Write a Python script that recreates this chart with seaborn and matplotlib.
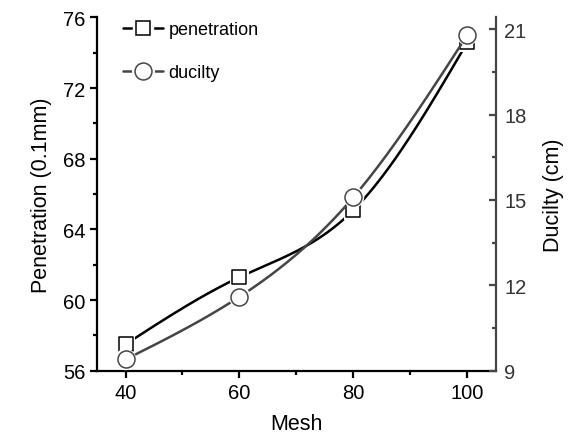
import numpy as np
import pandas as pd
import seaborn as sns
import matplotlib.pyplot as plt
from matplotlib.lines import Line2D
from matplotlib.legend_handler import HandlerTuple
from matplotlib.ticker import MultipleLocator

mesh = [40, 60, 80, 100]
penetration = [57.5, 61.3, 65.1, 74.6]
ducility = [9.4, 11.6, 15.1, 20.8]

pen_color = "#000000"
duc_color = "#454545"


def natural_spline(x, y, n=200):
    # natural cubic spline, only used to draw the smooth connecting line
    x = np.asarray(x, float)
    y = np.asarray(y, float)
    k = len(x)
    h = np.diff(x)
    A = np.zeros((k, k))
    b = np.zeros(k)
    A[0, 0] = A[-1, -1] = 1
    for i in range(1, k - 1):
        A[i, i - 1] = h[i - 1]
        A[i, i] = 2 * (h[i - 1] + h[i])
        A[i, i + 1] = h[i]
        b[i] = 6 * ((y[i + 1] - y[i]) / h[i] - (y[i] - y[i - 1]) / h[i - 1])
    M = np.linalg.solve(A, b)
    xs = np.linspace(x[0], x[-1], n)
    idx = np.clip(np.searchsorted(x, xs) - 1, 0, k - 2)
    x0, x1 = x[idx], x[idx + 1]
    hh = x1 - x0
    ys = (M[idx] * (x1 - xs) ** 3 / (6 * hh) + M[idx + 1] * (xs - x0) ** 3 / (6 * hh)
          + (y[idx] / hh - M[idx] * hh / 6) * (x1 - xs)
          + (y[idx + 1] / hh - M[idx + 1] * hh / 6) * (xs - x0))
    return xs, ys


sns.set_theme(style="ticks")
plt.rcParams["font.family"] = ["Liberation Sans", "DejaVu Sans"]
plt.rcParams["text.color"] = "black"
plt.rcParams["axes.labelcolor"] = "black"

fig = plt.figure(figsize=(5.74, 4.39), dpi=100)
ax = fig.add_axes([0.169, 0.153, 0.695, 0.805])
ax2 = ax.twinx()

df = pd.DataFrame({"Mesh": mesh, "penetration": penetration, "ducility": ducility})

xs, ys = natural_spline(mesh, penetration)
ax.plot(xs, ys, color=pen_color, lw=1.8, zorder=2)
sns.scatterplot(data=df, x="Mesh", y="penetration", ax=ax, marker="s", s=200,
                color="white", edgecolor="none", zorder=3, legend=False)
sns.scatterplot(data=df, x="Mesh", y="penetration", ax=ax, marker="s", s=115,
                facecolor="white", edgecolor=pen_color, linewidth=1.1, zorder=4, legend=False)

xs, ys = natural_spline(mesh, ducility)
ax2.plot(xs, ys, color=duc_color, lw=1.8, zorder=2)
sns.scatterplot(data=df, x="Mesh", y="ducility", ax=ax2, marker="o", s=240,
                color="white", edgecolor="none", zorder=3, legend=False)
sns.scatterplot(data=df, x="Mesh", y="ducility", ax=ax2, marker="o", s=150,
                facecolor="white", edgecolor=duc_color, linewidth=1.1, zorder=4, legend=False)

ax.set_xlim(35, 105)
ax.set_ylim(56, 76)
ax2.set_ylim(9, 21.41)
ax.set_xticks(mesh)
ax.set_yticks([56, 60, 64, 68, 72, 76])
ax2.set_yticks([9, 12, 15, 18, 21])
ax.xaxis.set_minor_locator(MultipleLocator(10))
ax.yaxis.set_minor_locator(MultipleLocator(2))
ax2.yaxis.set_minor_locator(MultipleLocator(1.5))

for a in (ax, ax2):
    a.spines["top"].set_visible(False)
ax.spines["right"].set_visible(False)
ax2.spines["left"].set_visible(False)
ax2.spines["bottom"].set_visible(False)
for s in ("left", "bottom"):
    ax.spines[s].set_linewidth(1.6)
    ax.spines[s].set_color("black")
ax2.spines["right"].set_linewidth(1.6)
ax2.spines["right"].set_color(duc_color)

ax.tick_params(which="major", direction="out", length=5, width=1.6, labelsize=14.5, colors="black")
ax.tick_params(which="minor", direction="out", length=3, width=1.6, colors="black")
ax2.tick_params(which="major", direction="in", length=5, width=1.6, labelsize=14.5,
                color=duc_color, labelcolor="#333333", pad=6)
ax2.tick_params(which="minor", direction="in", length=3, width=1.6, color=duc_color)

ax.set_xlabel("Mesh", fontsize=15.5, labelpad=8)
ax.set_ylabel("Penetration (0.1mm)", fontsize=15.5, labelpad=8)
ax2.set_ylabel("Ducilty (cm)", fontsize=15.5, labelpad=12)
ax.set_facecolor("white")
ax2.patch.set_visible(False)

h_pen = (Line2D([], [], color=pen_color, lw=1.8),
         Line2D([], [], marker="s", ms=14, color="white", ls="none"),
         Line2D([], [], marker="s", ms=10.5, mfc="white", mec=pen_color, mew=1.1, ls="none"))
h_duc = (Line2D([], [], color=duc_color, lw=1.8),
         Line2D([], [], marker="o", ms=15.5, color="white", ls="none"),
         Line2D([], [], marker="o", ms=12.2, mfc="white", mec=duc_color, mew=1.1, ls="none"))
ax.legend([h_pen, h_duc], ["penetration", "ducilty"], loc="upper left",
          bbox_to_anchor=(0.025, 1.035), frameon=False, fontsize=13,
          handler_map={tuple: HandlerTuple(ndivide=1, pad=0)},
          handlelength=2.2, handletextpad=0.3, labelspacing=1.45)

fig.savefig("out.png", dpi=100)
